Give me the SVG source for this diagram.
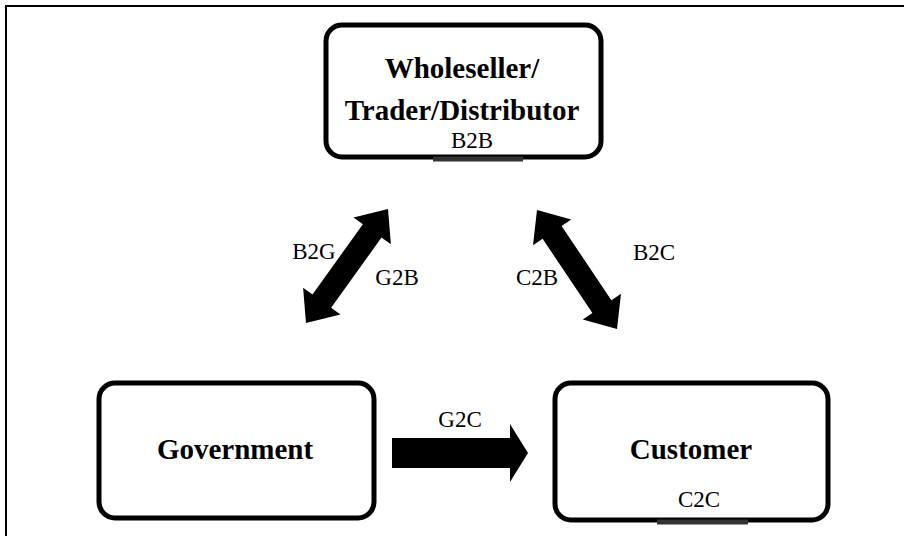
<svg xmlns="http://www.w3.org/2000/svg" width="904" height="536" viewBox="0 0 904 536">
<style>
.box{fill:#fff;stroke:#000;stroke-width:5}
.t{font-family:"Liberation Serif","Times New Roman",serif;font-weight:bold;font-size:29px;fill:#000;text-anchor:middle}
.l{font-family:"Liberation Serif","Times New Roman",serif;font-size:23px;fill:#000;text-anchor:middle}
.bar{stroke:#333;stroke-width:5}
.arr{fill:#000}
</style>
<rect width="904" height="536" fill="#fff"/>
<path d="M6,536 V6 H904" fill="none" stroke="#000" stroke-width="2"/>
<g id="connectors">
<polygon class="arr" points="388,209 390.9,244.3 381.5,237.6 331.1,307.8 340.5,314.5 306,323 303.1,287.7 312.5,294.4 362.9,224.2 353.5,217.5"/>
<polygon class="arr" points="537,210 571.2,219.6 561.6,226 611.4,300.2 621,293.8 617,329 582.8,319.4 592.4,313 542.6,238.8 533,245.2"/>
<polygon class="arr" points="392,438 510,438 510,424 528,453 510,482 510,468 392,468"/>
<text class="l" x="314" y="259">B2G</text>
<text class="l" x="397" y="285">G2B</text>
<text class="l" x="537" y="285">C2B</text>
<text class="l" x="654" y="260">B2C</text>
<text class="l" x="460" y="427">G2C</text>
</g>
<g id="wholesaler">
<rect class="box" x="326" y="25" width="275" height="132" rx="16"/>
<line class="bar" x1="433" y1="159" x2="523" y2="159"/>
<text class="t" x="462" y="78">Wholeseller/</text>
<text class="t" x="462" y="120">Trader/Distributor</text>
<text class="l" x="472" y="148">B2B</text>
</g>
<g id="government">
<rect class="box" x="99" y="383" width="275" height="135" rx="16"/>
<text class="t" x="235" y="459">Government</text>
</g>
<g id="customer">
<rect class="box" x="555" y="383" width="273" height="137" rx="16"/>
<line class="bar" x1="657" y1="522" x2="748" y2="522"/>
<text class="t" x="691" y="459">Customer</text>
<text class="l" x="699" y="507">C2C</text>
</g>
</svg>
